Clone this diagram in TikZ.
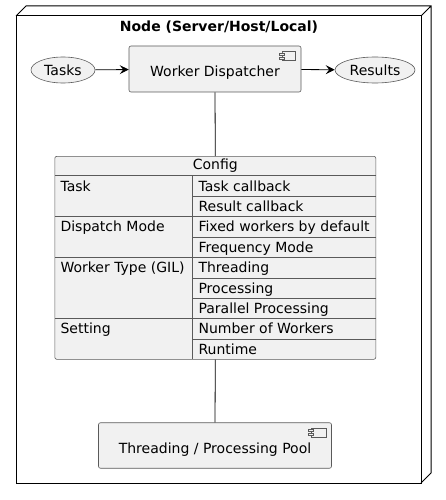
\documentclass[tikz,border=0pt]{standalone}
\usepackage{fontspec}
\setmainfont{DejaVu Sans}
\usetikzlibrary{shapes.geometric,arrows.meta}
\definecolor{boxfill}{HTML}{F1F1F1}
\definecolor{boxline}{HTML}{5A5A5A}
\newcommand\rowgap{20.4}

\begin{document}
\begin{tikzpicture}[x=1pt,y=-1pt,font=\fontsize{14}{16}\selectfont,
  comp/.style={draw=boxline,fill=boxfill,rounded corners=2pt,line width=0.6pt,text height=19pt,text depth=3pt},
  usecase/.style={ellipse,draw=boxline,fill=boxfill,line width=0.6pt,inner sep=0pt},
  flow/.style={-{Stealth[length=9pt,width=9pt,inset=3.5pt]},line width=0.8pt}]
\useasboundingbox (0,0) rectangle (446,500);
% node frame
\draw[line width=1pt] (16,16) coordinate(F) rectangle (421,483) coordinate(G);
\draw[line width=1pt] (F)--(26,6)--(431,6)--(431,473)--(G) (421,16)--(431,6);
\node[font=\fontsize{14}{16}\selectfont\bfseries] (title) at (219,27) {Node (Server/Host/Local)};

\node[comp,minimum width=172pt,minimum height=46pt] (disp) at (215,69) {Worker Dispatcher};
\node[usecase,minimum width=64pt,minimum height=26pt] (tasks) at (63,70) {Tasks};
\node[usecase,minimum width=80pt,minimum height=26pt] (results) at (375,70) {Results};
\draw[flow] (tasks)--(disp);
\draw[flow] (disp)--(results);
% component icon
\draw[boxline,fill=boxfill,line width=0.5pt] (282,51.5) rectangle (295.5,60.5);
\draw[boxline,fill=boxfill,line width=0.5pt] (279.5,53) rectangle (284.5,55) (279.5,57) rectangle (284.5,59);

% config table
\node[draw=boxline,fill=boxfill,rounded corners=2pt,line width=0.6pt,minimum width=321pt,minimum height=203pt,anchor=north,inner sep=0pt] (config) at (215.3,156) {};
\node (cfghead) at (215.3,165.5) {Config};
\draw[boxline,line width=0.6pt] (55,175)--(375.7,175) (192.7,175)--(192.7,359);
\foreach \y in {216.7,257.7,318.3} \draw[boxline,line width=0.6pt] (55,\y)--(375.7,\y);
\foreach \y in {196.7,237.3,278,298,339} \draw[boxline,line width=0.6pt] (192.7,\y)--(375.7,\y);
\foreach \t [count=\i from 0] in {Task callback,Result callback,Fixed workers by default,Frequency Mode,Threading,Processing,Parallel Processing,Number of Workers,Runtime}
  \node[anchor=base west] (val\i) at (195,191+\i*\rowgap) {\t};
\node[anchor=base west] (keytask) at (57,191) {Task};
\node[anchor=base west] (keymode) at (57,191+2*\rowgap) {Dispatch Mode};
\node[anchor=base west] (keytype) at (57,191+4*\rowgap) {Worker Type (GIL)};
\node[anchor=base west] (keyset) at (57,191+7*\rowgap) {Setting};

\node[comp,minimum width=233pt,minimum height=45.5pt] (pool) at (215,445.5) {Threading / Processing Pool};
\draw[boxline,fill=boxfill,line width=0.5pt] (311,428) rectangle (326.5,437);
\draw[boxline,fill=boxfill,line width=0.5pt] (308.5,429.5) rectangle (313.5,431.5) (308.5,433.5) rectangle (313.5,435.5);

\draw[line width=0.8pt] (disp.south)--(config.north);
\draw[line width=0.8pt] (config.south)--(pool.north);
\end{tikzpicture}
\end{document}
